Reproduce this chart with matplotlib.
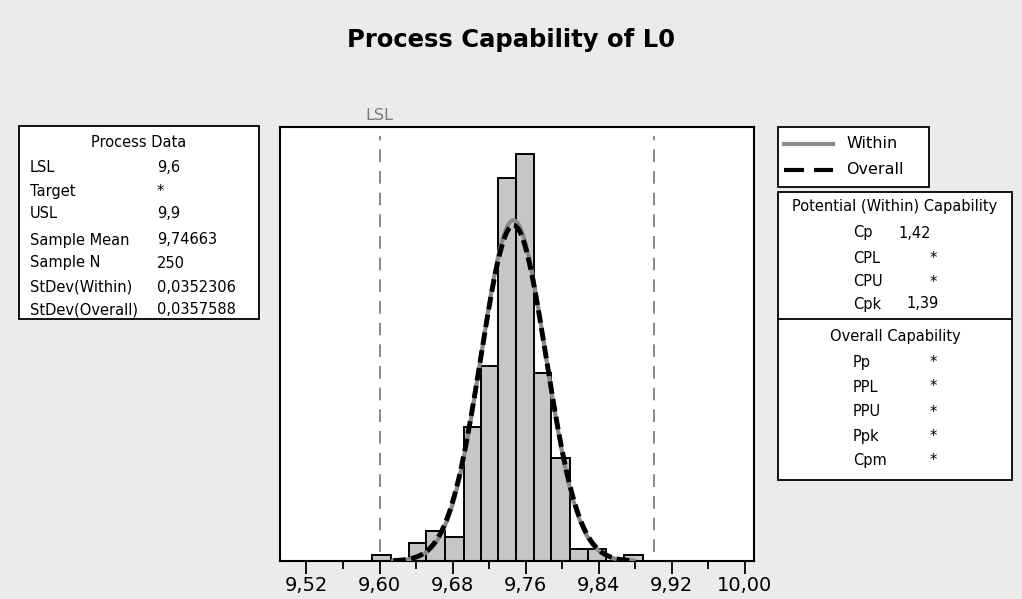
import numpy as np
import matplotlib
matplotlib.use("Agg")
import matplotlib.pyplot as plt
from matplotlib.patches import Rectangle
from matplotlib.lines import Line2D

# ---------------- data ----------------
title = "Process Capability of L0"
bin_edges = [9.592, 9.612, 9.632, 9.651, 9.672, 9.692, 9.711, 9.730,
             9.749, 9.769, 9.788, 9.809, 9.828, 9.848, 9.868, 9.889]
counts = [1, 0, 3, 5, 4, 22, 32, 63, 67, 31, 17, 2, 2, 0, 1]
lsl = 9.6
usl = 9.9
mean = 9.74663
n_sample = 250
sd_within = 0.0352306
sd_overall = 0.0357588
curve_range = (9.615, 9.878)
xticks = [9.52, 9.60, 9.68, 9.76, 9.84, 9.92, 10.00]
xtick_labels = ["9,52", "9,60", "9,68", "9,76", "9,84", "9,92", "10,00"]
minor_ticks = [9.56, 9.64, 9.72, 9.80, 9.88, 9.96]

process_labels = ["LSL", "Target", "USL", "Sample Mean", "Sample N",
                  "StDev(Within)", "StDev(Overall)"]
process_values = ["9,6", "*", "9,9", "9,74663", "250", "0,0352306", "0,0357588"]
within_labels = ["Cp", "CPL", "CPU", "Cpk"]
within_values = ["1,42", "*", "*", "1,39"]
overall_labels = ["Pp", "PPL", "PPU", "Ppk", "Cpm"]
overall_values = ["*", "*", "*", "*", "*"]

# ---------------- figure ----------------
W, H = 1022, 599
BG = "#ebebeb"
fig = plt.figure(figsize=(W / 100, H / 100), dpi=100, facecolor=BG)
plt.rcParams["font.family"] = ["DejaVu Sans"]


def fx(px):
    return px / W


def fy(py):
    return 1 - py / H


def box(x0, y0, x1, y1, lw=1.3):
    fig.add_artist(Rectangle((fx(x0), fy(y1)), fx(x1) - fx(x0), fy(y0) - fy(y1),
                             transform=fig.transFigure, facecolor="white",
                             edgecolor="black", lw=lw, zorder=1))


def txt(x, y, s, ha="left", size=10.5, **kw):
    fig.text(fx(x), fy(y), s, ha=ha, va="center", fontsize=size, zorder=3, **kw)


# main axes
ax = fig.add_axes([fx(280), fy(561), fx(754) - fx(280), fy(127) - fy(561)])
ax.set_facecolor("white")
widths = np.diff(bin_edges)
ax.bar(bin_edges[:-1], counts, width=widths, align="edge", color="#c6c6c6",
       edgecolor="black", linewidth=1.4, zorder=2)

xs = np.linspace(curve_range[0], curve_range[1], 400)
bw = np.mean(widths)


def normal(x, m, s):
    return n_sample * bw * np.exp(-0.5 * ((x - m) / s) ** 2) / (s * np.sqrt(2 * np.pi))


ax.plot(xs, normal(xs, mean, sd_within), color="#8a8a8a", lw=3, zorder=3)
ax.plot(xs, normal(xs, mean, sd_overall), color="black", lw=3.5,
        dashes=(2.6, 1.1), zorder=4)

for v in (lsl, usl):
    ax.axvline(v, ymin=0.02, ymax=0.98, color="#808080", lw=1.3,
               dashes=(7, 5), zorder=1)

ax.set_xlim(9.491, 10.010)
ax.set_ylim(0, 71.4)
ax.set_yticks([])
ax.set_xticks(xticks)
ax.set_xticklabels(xtick_labels, fontsize=14)
ax.set_xticks(minor_ticks, minor=True)
ax.tick_params(axis="x", which="major", length=9, width=1.3, pad=2)
ax.tick_params(axis="x", which="minor", length=6, width=1.3)
for sp in ax.spines.values():
    sp.set_linewidth(1.5)

# LSL label above the frame
lsl_px = 280 + (lsl - 9.491) / (10.010 - 9.491) * (754 - 280)
txt(lsl_px, 115, "LSL", ha="center", size=11.5, color="#7a7a7a")

# title
fig.text(0.5, fy(40), title, ha="center", va="center", fontsize=17.5,
         fontweight="bold")

# process data box
box(19, 126, 259, 319)
txt(139, 143, "Process Data", ha="center")
rows_y = [168, 191, 213, 240, 263, 287, 310]
for y, lab, val in zip(rows_y, process_labels, process_values):
    txt(30, y, lab)
    txt(157, y, val)

# legend box
box(778, 127, 929, 187)
fig.add_artist(Line2D([fx(784), fx(833)], [fy(144), fy(144)], color="#8a8a8a",
                      lw=3, transform=fig.transFigure, zorder=3))
fig.add_artist(Line2D([fx(784), fx(833)], [fy(170), fy(170)], color="black",
                      lw=3, dashes=(4.8, 2.4), transform=fig.transFigure, zorder=3))
txt(846, 144, "Within", size=11.5)
txt(846, 170, "Overall", size=11.5)

# capability box
box(778, 192, 1012, 480)
fig.add_artist(Line2D([fx(778), fx(1012)], [fy(319), fy(319)], color="black",
                      lw=1.3, transform=fig.transFigure, zorder=3))
txt(895, 207, "Potential (Within) Capability", ha="center")
within_x = [915, 933, 933, 923]
for y, xv, lab, val in zip([233, 258, 282, 304], within_x, within_labels, within_values):
    txt(853, y, lab)
    txt(xv, y, val, ha="center")
txt(895, 337, "Overall Capability", ha="center")
for y, lab, val in zip([362, 387, 412, 437, 461], overall_labels, overall_values):
    txt(853, y, lab)
    txt(933, y, val, ha="center")

fig.savefig("out.png", dpi=100, facecolor=BG)
